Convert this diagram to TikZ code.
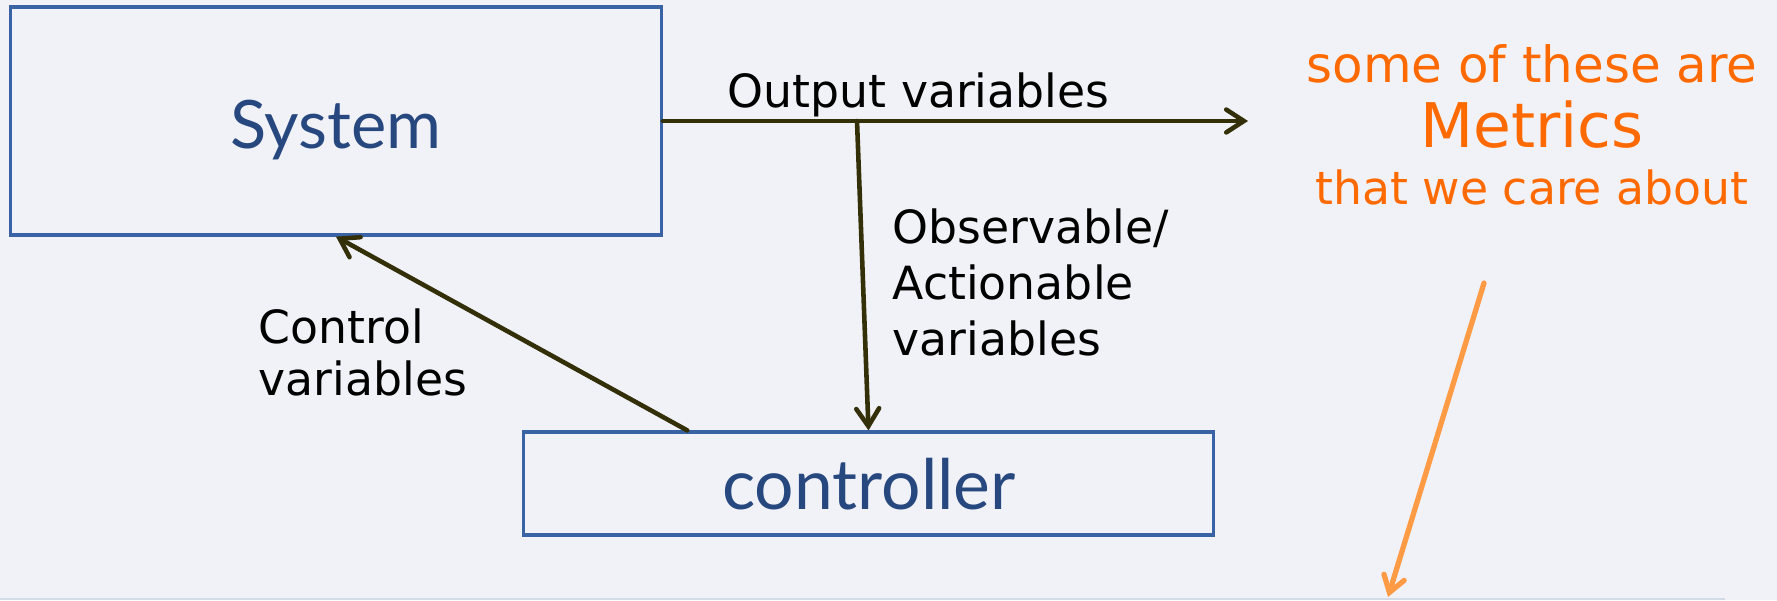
\documentclass[tikz,border=0pt]{standalone}
\usepackage{fontspec}
\setmainfont{DejaVu Sans}
\newfontfamily\boxfont{Lato}
\usepackage{tikz}
\usetikzlibrary{positioning}
\usetikzlibrary{arrows.meta}

\definecolor{slidebg}{HTML}{F1F2F7}
\definecolor{boxblue}{HTML}{3A63A6}
\definecolor{textblue}{HTML}{27477F}
\definecolor{arrowdark}{HTML}{332F08}
\definecolor{noteorange}{HTML}{FF6A00}
\definecolor{noteline}{HTML}{FF9A45}
\definecolor{rulegrey}{HTML}{D3DAE8}

\tikzset{
	blockbox/.style={draw=boxblue, line width=0.9pt, inner sep=0pt},
	blocklabel/.style={text=textblue, inner sep=0pt, font=\boxfont\fontsize{19}{23}\selectfont},
	flowlabel/.style={inner sep=0pt, align=left, font=\fontsize{13}{15.9}\selectfont},
	flowarrow/.style={draw=arrowdark, line width=1.3pt, line cap=round,
		-{Straight Barb[length=5pt, width=6.5pt, line cap=round]}},
	notelabel/.style={text=noteorange, inner sep=0pt, align=center, font=\fontsize{14.2}{16}\selectfont},
	notearrow/.style={draw=noteline, line width=1.5pt, line cap=round,
		-{Straight Barb[length=4.5pt, width=6pt, line cap=round]}},
}

\begin{document}
\begin{tikzpicture}[x=0.01cm, y=-0.01cm]

		% ---------------------
		% Proper size --- Bounding box
		\useasboundingbox[fill=slidebg] (0,0) rectangle (1777,600);
		\draw[rulegrey, line width=0.6pt] (0,599) -- (1725,599);

		% ---------------------
		% Blocks
		\node[blockbox, minimum width=6.50cm, minimum height=2.28cm] (System) at (336,121) {};
		\node[blocklabel, anchor=base] (SystemText) at (336,148) {System};

		\node[blockbox, minimum width=6.89cm, minimum height=1.03cm] (Controller) at (868.5,483.5) {};
		\node[blocklabel, anchor=base, font=\boxfont\fontsize{19.8}{23}\selectfont] (ControllerText) at (869,509) {controller};

		% ---------------------
		% Arrow ends
		\coordinate (Tap) at (857,121);
		\coordinate (MetricsTip) at (1248,121);
		\path (Controller.north west) +(165,0) coordinate (CtrlOut);
		\coordinate (NoteStart) at (1484,283);
		\coordinate (NoteTip) at (1388,597);

		% ---------------------
		% Labels (base = last line)
		\node[flowlabel, anchor=base west] (OutLbl) at (727,107) {Output variables};
		\node[flowlabel, anchor=base west] (ObsLbl) at (892,355) {Observable/\\Actionable\\variables};
		\node[flowlabel, anchor=base west, font=\fontsize{13}{14.6}\selectfont] (CtrlLbl) at (258,395) {Control\\variables};

		\node[notelabel, anchor=base] (Note) at (1532,204) {some of these are\\[2.5pt]{\fontsize{17.5}{16}\selectfont Metrics}\\{\fontsize{13}{16}\selectfont that we care about}};

		% ---------------------
		\draw[flowarrow] (System.east) -- (MetricsTip);
		\draw[flowarrow] (Tap) -- (Controller.north);
		\draw[flowarrow] (CtrlOut) -- (System.south);
		\draw[notearrow] (NoteStart) -- (NoteTip);

\end{tikzpicture}
\end{document}
